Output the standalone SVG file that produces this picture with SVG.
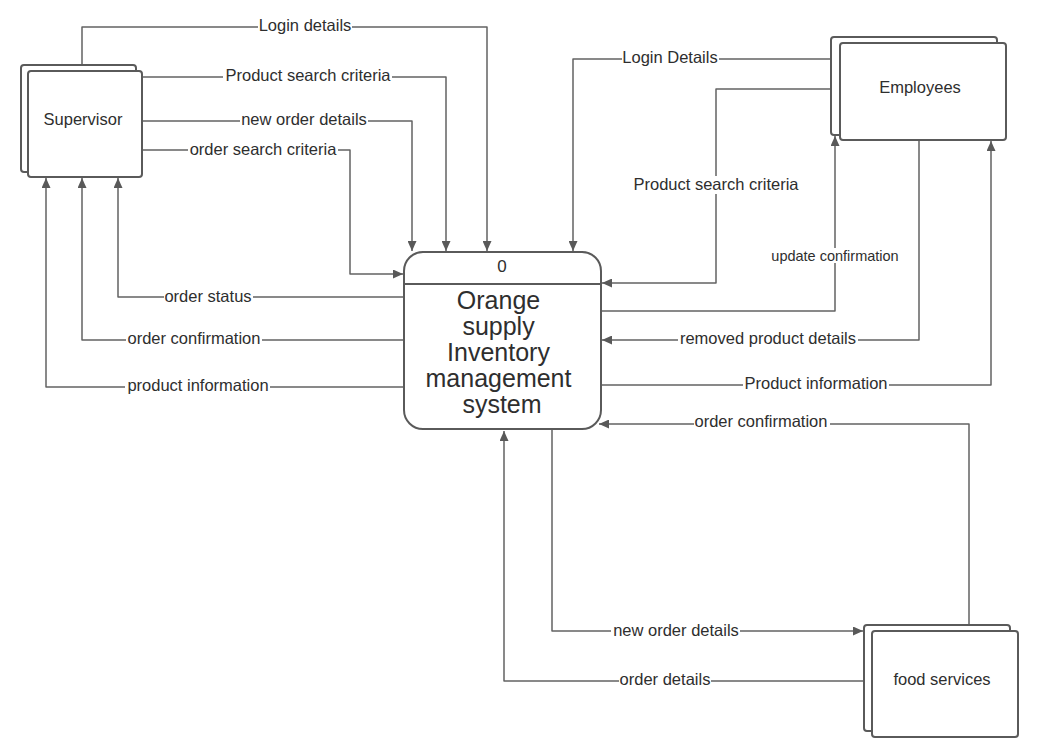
<svg xmlns="http://www.w3.org/2000/svg" width="1039" height="756" viewBox="0 0 1039 756">
<style>
.box{fill:#fff;stroke:#5a5a5a;stroke-width:2}
.conn{fill:none;stroke:#636363;stroke-width:1.5;stroke-linejoin:round}
.bg{fill:#fff}
.lbl{font-family:"Liberation Sans",Arial,sans-serif;font-size:16.5px;fill:#2e2e2e;text-anchor:middle}
.small{font-size:14.5px}
.node{font-family:"Liberation Sans",Arial,sans-serif;fill:#2e2e2e;text-anchor:middle}
</style>
<defs>
<marker id="arr" markerUnits="userSpaceOnUse" markerWidth="11" markerHeight="9" refX="10" refY="4.5" orient="auto">
<path d="M0,0 L10,4.5 L0,9 z" fill="#595959"/>
</marker>
</defs>
<rect width="1039" height="756" fill="#fff"/>
<g id="connectors">
<path class="conn" d="M82,65 V27 H487 V251" marker-end="url(#arr)"/>
<path class="conn" d="M142,77 H446 V251" marker-end="url(#arr)"/>
<path class="conn" d="M142,121 H412 V251" marker-end="url(#arr)"/>
<path class="conn" d="M142,150 H350 V274 H403" marker-end="url(#arr)"/>
<path class="conn" d="M404,297 H118 V178" marker-end="url(#arr)"/>
<path class="conn" d="M404,340 H82 V178" marker-end="url(#arr)"/>
<path class="conn" d="M404,387 H46 V178" marker-end="url(#arr)"/>
<path class="conn" d="M831,59 H573 V251" marker-end="url(#arr)"/>
<path class="conn" d="M831,89 H716 V283 H602" marker-end="url(#arr)"/>
<path class="conn" d="M601,311 H835 V136" marker-end="url(#arr)"/>
<path class="conn" d="M919,140 V340 H602" marker-end="url(#arr)"/>
<path class="conn" d="M601,385 H991 V141" marker-end="url(#arr)"/>
<path class="conn" d="M969,625 V424 H599" marker-end="url(#arr)"/>
<path class="conn" d="M552,429 V631 H863" marker-end="url(#arr)"/>
<path class="conn" d="M864,681 H504 V431" marker-end="url(#arr)"/>
<rect class="bg" x="258" y="19" width="94" height="16"/>
<rect class="bg" x="223" y="69" width="169" height="16"/>
<rect class="bg" x="240" y="113" width="128" height="16"/>
<rect class="bg" x="188" y="142" width="150" height="16"/>
<rect class="bg" x="164" y="289" width="89" height="16"/>
<rect class="bg" x="126" y="332" width="136" height="16"/>
<rect class="bg" x="125" y="379" width="145" height="16"/>
<rect class="bg" x="622" y="51" width="97" height="16"/>
<rect class="bg" x="632" y="176" width="169" height="18"/>
<rect class="bg" x="771" y="248" width="128" height="15"/>
<rect class="bg" x="678" y="332" width="180" height="16"/>
<rect class="bg" x="743" y="377" width="146" height="16"/>
<rect class="bg" x="694" y="416" width="136" height="16"/>
<rect class="bg" x="611" y="623" width="129" height="16"/>
<rect class="bg" x="619" y="673" width="92" height="16"/>
<text class="lbl" x="305" y="31">Login details</text>
<text class="lbl" x="308" y="81">Product search criteria</text>
<text class="lbl" x="304" y="125">new order details</text>
<text class="lbl" x="263" y="155">order search criteria</text>
<text class="lbl" x="208" y="302">order status</text>
<text class="lbl" x="194" y="344">order confirmation</text>
<text class="lbl" x="198" y="391">product information</text>
<text class="lbl" x="670" y="63">Login Details</text>
<text class="lbl" x="716" y="190">Product search criteria</text>
<text class="lbl small" x="835" y="261">update confirmation</text>
<text class="lbl" x="768" y="344">removed product details</text>
<text class="lbl" x="816" y="389">Product information</text>
<text class="lbl" x="761" y="427">order confirmation</text>
<text class="lbl" x="676" y="636">new order details</text>
<text class="lbl" x="665" y="685">order details</text>
</g>
<g id="supervisor">
<rect class="box" x="21" y="65" width="115" height="107" rx="3"/>
<rect class="box" x="28" y="71" width="114" height="106" rx="3"/>
<text class="node" x="83" y="125" font-size="16.5">Supervisor</text>
</g>
<g id="employees">
<rect class="box" x="831" y="37" width="166" height="98" rx="3"/>
<rect class="box" x="840" y="43" width="166" height="97" rx="3"/>
<text class="node" x="920" y="93" font-size="16.5">Employees</text>
</g>
<g id="food-services">
<rect class="box" x="864" y="625" width="146" height="106" rx="3"/>
<rect class="box" x="872" y="631" width="146" height="106" rx="3"/>
<text class="node" x="942" y="685" font-size="16.5">food services</text>
</g>
<g id="process-0">
<rect class="box" x="404" y="252" width="197" height="177" rx="19"/>
<line x1="404" y1="284" x2="601" y2="284" stroke="#5a5a5a" stroke-width="2"/>
<text class="node" x="502" y="272" font-size="17">0</text>
<text class="node" font-size="25">
<tspan x="502" y="309">Orange</tspan>
<tspan x="502" y="335">supply</tspan>
<tspan x="502" y="361">Inventory</tspan>
<tspan x="502" y="387">management</tspan>
<tspan x="502" y="413">system</tspan>
</text>
</g>
</svg>
